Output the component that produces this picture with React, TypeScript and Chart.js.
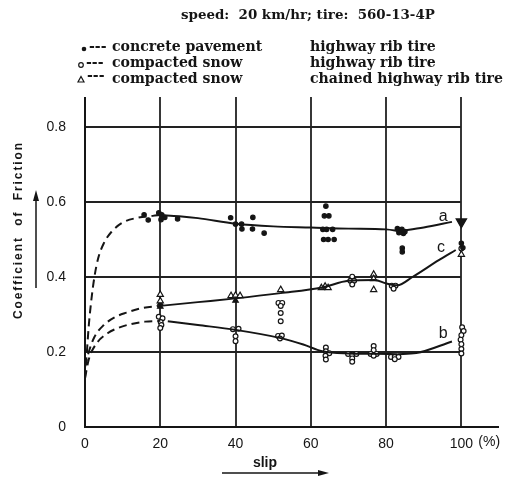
import React, { useEffect, useRef } from 'react';
import { Chart, registerables } from 'chart.js';

Chart.register(...registerables);

// ---------- data ----------
const TITLE = 'speed:  20 km/hr; tire:  560-13-4P';
const LEGEND_SURFACE = ['concrete pavement', 'compacted snow', 'compacted snow'];
const LEGEND_TIRE = ['highway rib tire', 'highway rib tire', 'chained highway rib tire'];
const Y_TITLE = 'Coefficient  of  Friction';
const X_TITLE = 'slip';
const X_UNIT = '(%)';
const X_TICKS = [0, 20, 40, 60, 80, 100];
const Y_TICKS = [0, 0.2, 0.4, 0.6, 0.8];
const X_MAX = 110;
const Y_MAX = 0.88;

// curve a: concrete pavement, highway rib tire
const curveADashed = [
  [0, 0.13], [0.5, 0.2], [1, 0.27], [1.7, 0.34], [2.5, 0.4], [3.5, 0.45], [5, 0.49],
  [7, 0.52], [10, 0.545], [14, 0.558], [18, 0.563], [20, 0.565],
];
const curveASolid = [
  [20, 0.565], [25, 0.562], [30, 0.557], [40, 0.542], [50, 0.535], [60, 0.532],
  [70, 0.529], [80, 0.527], [83.5, 0.522],
];
const curveATail = [[83.5, 0.522], [90, 0.532], [97.5, 0.547]];

// curve b: compacted snow, highway rib tire
const curveBDashed = [
  [0, 0.13], [1, 0.18], [3, 0.222], [6, 0.25], [9, 0.265], [12, 0.274], [16, 0.281], [20, 0.283],
];
const curveBSolid = [
  [22, 0.282], [30, 0.272], [40, 0.259], [52, 0.237], [58, 0.22], [63, 0.202],
  [70, 0.196], [77, 0.195], [83, 0.194],
];
const curveBTail = [[83, 0.194], [88, 0.197], [97.5, 0.228]];

// curve c: compacted snow, chained highway rib tire
const curveCDashed = [
  [0, 0.16], [1, 0.2], [2.5, 0.24], [5, 0.272], [8, 0.293], [11, 0.305], [15, 0.317], [20, 0.323],
];
const curveCSolid = [
  [20, 0.323], [30, 0.333], [40, 0.343], [52, 0.357], [63, 0.372], [70, 0.39],
  [77, 0.392], [80, 0.383], [83, 0.378], [87, 0.4], [94, 0.445], [98.5, 0.472],
];

const concretePoints = [
  [15.7, 0.566], [16.8, 0.552], [19.6, 0.571], [20.4, 0.566], [20.2, 0.553], [21.2, 0.559], [24.6, 0.555],
  [38.7, 0.558], [40, 0.541], [41.6, 0.541], [41.7, 0.528], [44.6, 0.559], [44.5, 0.528], [47.6, 0.517],
  [64, 0.589], [63.6, 0.563], [64.8, 0.563], [63.2, 0.527], [64.2, 0.527], [65.8, 0.527],
  [63.4, 0.5], [64.6, 0.5], [66.2, 0.5],
  [83, 0.529], [84.2, 0.527], [85, 0.521], [83.4, 0.518], [84.6, 0.516], [84.3, 0.477], [84.3, 0.467],
  [100, 0.49], [100.4, 0.478],
];
const concreteCluster = [[100, 0.547]];

const snowPoints = [
  [19.6, 0.294], [20.6, 0.29], [20.1, 0.28], [20.3, 0.272], [20, 0.264],
  [39.3, 0.261], [40.8, 0.262], [40, 0.242], [40, 0.229],
  [51.4, 0.331], [52.4, 0.331], [52, 0.323], [52, 0.304], [52, 0.282],
  [51.3, 0.243], [52.3, 0.244], [51.8, 0.236],
  [64, 0.212], [64, 0.202], [64.9, 0.197], [63.9, 0.19], [64, 0.18],
  [69.9, 0.195], [71, 0.193], [72.1, 0.195], [71, 0.183], [71, 0.174],
  [76.7, 0.216], [76.7, 0.205], [75.9, 0.195], [77.5, 0.195], [76.7, 0.19],
  [81.3, 0.187], [82.3, 0.187], [83.3, 0.187], [82.3, 0.181],
  [100.2, 0.266], [100.6, 0.256], [100, 0.245], [99.8, 0.233], [100, 0.221], [100, 0.208], [100, 0.196],
  [71, 0.401], [70.5, 0.39], [71.5, 0.39], [71, 0.38], [81.5, 0.377], [82.5, 0.377], [82, 0.369],
  [100, 0.476],
];

const chainedPoints = [
  [20, 0.353], [20, 0.336], [38.8, 0.35], [40, 0.351], [41.2, 0.35], [52, 0.366],
  [62.8, 0.371], [63.8, 0.375], [64.6, 0.371], [70.8, 0.394], [76.7, 0.407], [76.7, 0.395],
  [76.7, 0.366], [100, 0.46],
];
const chainedFilled = [[20, 0.329], [20, 0.321], [40, 0.337]];

const CURVE_LABELS: [string, number, number][] = [
  ['a', 95.2, 0.562],
  ['c', 94.6, 0.478],
  ['b', 95.2, 0.248],
];

// ---------- helpers ----------
const INK = '#151515';
const toXY = (pts: number[][]) => pts.map(([x, y]) => ({ x, y }));

const curve = (pts: number[][], dashed: boolean, tension = 0.4) => ({
  data: toXY(pts),
  showLine: true,
  borderColor: INK,
  borderWidth: 2,
  borderDash: dashed ? [8, 5] : [],
  pointRadius: 0,
  tension,
  cubicInterpolationMode: 'monotone' as const,
});

const marks = (pts: number[][], style: string, radius: number, fill: boolean, rotation = 0) => ({
  data: toXY(pts),
  showLine: false,
  pointStyle: style,
  pointRadius: radius,
  pointRotation: rotation,
  pointBackgroundColor: fill ? INK : '#ffffff',
  pointBorderColor: INK,
  pointBorderWidth: 1.2,
});

function fitSize(ctx: CanvasRenderingContext2D, text: string, weight: string, family: string, width: number) {
  ctx.font = `${weight} 20px ${family}`;
  return (20 * width) / ctx.measureText(text).width;
}

const decorPlugin = {
  id: 'decor',
  beforeDatasetsDraw(chart: any) {
    const { ctx, scales } = chart;
    const xs = scales.x, ys = scales.y;
    ctx.save();
    ctx.strokeStyle = '#222';
    ctx.lineWidth = 1.8;
    ctx.beginPath();
    Y_TICKS.filter(v => v > 0).forEach(v => {
      const py = Math.round(ys.getPixelForValue(v));
      ctx.moveTo(xs.getPixelForValue(0), py);
      ctx.lineTo(xs.getPixelForValue(100), py);
    });
    X_TICKS.filter(v => v > 0).forEach(v => {
      const px = Math.round(xs.getPixelForValue(v));
      ctx.moveTo(px, ys.getPixelForValue(0));
      ctx.lineTo(px, ys.getPixelForValue(Y_MAX));
    });
    ctx.stroke();
    ctx.lineWidth = 2;
    ctx.strokeStyle = INK;
    ctx.beginPath();
    const x0 = xs.getPixelForValue(0), y0 = ys.getPixelForValue(0);
    ctx.moveTo(x0, ys.getPixelForValue(Y_MAX));
    ctx.lineTo(x0, y0);
    ctx.lineTo(xs.getPixelForValue(X_MAX), y0);
    ctx.stroke();
    ctx.restore();
  },
  afterDraw(chart: any) {
    const { ctx, scales } = chart;
    const xs = scales.x, ys = scales.y;
    ctx.save();
    ctx.fillStyle = INK;
    ctx.strokeStyle = INK;

    // title
    const serif = '"DejaVu Serif"';
    const s = fitSize(ctx, TITLE, 'bold', serif, 254);
    ctx.font = `bold ${s}px ${serif}`;
    ctx.textAlign = 'left';
    ctx.textBaseline = 'alphabetic';
    ctx.fillText(TITLE, 181, 19);

    // legend
    const ls = fitSize(ctx, LEGEND_TIRE[2], 'bold', serif, 193);
    ctx.font = `bold ${ls}px ${serif}`;
    const baselines = [51, 67, 83];
    baselines.forEach((b, i) => {
      ctx.fillText(LEGEND_SURFACE[i], 112, b);
      ctx.fillText(LEGEND_TIRE[i], 310, b);
    });
    ctx.lineWidth = 1.2;
    ctx.beginPath(); ctx.arc(84, 49, 2.3, 0, Math.PI * 2); ctx.fill();
    ctx.beginPath(); ctx.arc(81, 65, 2.3, 0, Math.PI * 2); ctx.stroke();
    ctx.beginPath(); ctx.moveTo(78, 82); ctx.lineTo(84, 82); ctx.lineTo(81, 76.5); ctx.closePath(); ctx.stroke();
    ctx.fillText('---', 89, 51);
    ctx.fillText('---', 86, 67);
    ctx.fillText('---', 87, 80);

    // tick unit
    ctx.font = '14px "Liberation Sans"';
    ctx.textBaseline = 'middle';
    ctx.fillText(X_UNIT, xs.getPixelForValue(100) + 17, 442);

    // x title and arrow
    ctx.font = 'bold 14px "Liberation Sans"';
    ctx.textAlign = 'center';
    ctx.textBaseline = 'alphabetic';
    ctx.fillText(X_TITLE, 265, 467);
    ctx.lineWidth = 1.5;
    ctx.beginPath(); ctx.moveTo(222, 473); ctx.lineTo(322, 473); ctx.stroke();
    ctx.beginPath(); ctx.moveTo(329, 473); ctx.lineTo(318, 470); ctx.lineTo(318, 476); ctx.closePath(); ctx.fill();

    // y title and arrow
    ctx.save();
    ctx.translate(22, 231);
    ctx.rotate(-Math.PI / 2);
    ctx.font = 'bold 12px "Liberation Sans"';
    const natural = ctx.measureText(Y_TITLE).width;
    const spacing = (178 - natural) / Y_TITLE.length;
    (ctx as any).letterSpacing = `${spacing}px`;
    ctx.textAlign = 'center';
    ctx.fillText(Y_TITLE, spacing / 2, 0);
    ctx.restore();
    ctx.lineWidth = 1.5;
    ctx.beginPath(); ctx.moveTo(36, 288); ctx.lineTo(36, 198); ctx.stroke();
    ctx.beginPath(); ctx.moveTo(36, 190); ctx.lineTo(33, 201); ctx.lineTo(39, 201); ctx.closePath(); ctx.fill();

    // curve labels
    ctx.font = '16px "Liberation Sans"';
    ctx.textAlign = 'center';
    ctx.textBaseline = 'middle';
    CURVE_LABELS.forEach(([t, x, y]) => {
      ctx.fillText(t, xs.getPixelForValue(x), ys.getPixelForValue(y));
    });
    ctx.restore();
  },
};

export default function App() {
  const ref = useRef<HTMLCanvasElement>(null);
  useEffect(() => {
    if (!ref.current) return;
    const chart = new Chart(ref.current, {
      type: 'scatter',
      data: {
        datasets: [
          curve(curveADashed, true),
          curve(curveASolid, false),
          curve(curveATail, false, 0),
          curve(curveBDashed, true),
          curve(curveBSolid, false),
          curve(curveBTail, false, 0),
          curve(curveCDashed, true),
          curve(curveCSolid, false),
          marks(concretePoints, 'circle', 2.2, true),
          marks(concreteCluster, 'triangle', 6, true, 180),
          marks(snowPoints, 'circle', 2.4, false),
          marks(chainedPoints, 'triangle', 3.6, false),
          marks(chainedFilled, 'triangle', 3.2, true),
        ] as any,
      },
      options: {
        animation: false,
        responsive: false,
        devicePixelRatio: 1,
        layout: { padding: { top: 97, right: 12, bottom: 0, left: 0 } },
        plugins: { legend: { display: false }, title: { display: false }, tooltip: { enabled: false } },
        scales: {
          x: {
            type: 'linear',
            min: 0,
            max: X_MAX,
            grid: { display: false },
            border: { display: false },
            afterBuildTicks: (sc: any) => { sc.ticks = X_TICKS.map(v => ({ value: v })); },
            afterFit: (sc: any) => { sc.height = 50; },
            ticks: {
              padding: 1,
              color: INK,
              font: { family: '"Liberation Sans"', size: 14 },
              maxRotation: 0,
              callback: (v: any) => String(v),
            },
          },
          y: {
            type: 'linear',
            min: 0,
            max: Y_MAX,
            grid: { display: false },
            border: { display: false },
            afterBuildTicks: (sc: any) => { sc.ticks = Y_TICKS.map(v => ({ value: v })); },
            afterFit: (sc: any) => { sc.width = 85; },
            ticks: {
              padding: 11,
              color: INK,
              font: { family: '"Liberation Sans"', size: 14 },
              callback: (v: any) => (v === 0 ? '0' : Number(v).toFixed(1)),
            },
          },
        },
      },
      plugins: [decorPlugin],
    });
    return () => chart.destroy();
  }, []);
  return (
    <div style={{ position: 'absolute', left: 0, top: 0, width: 511, height: 477, background: '#fff' }}>
      <canvas ref={ref} width={511} height={477} />
    </div>
  );
}
